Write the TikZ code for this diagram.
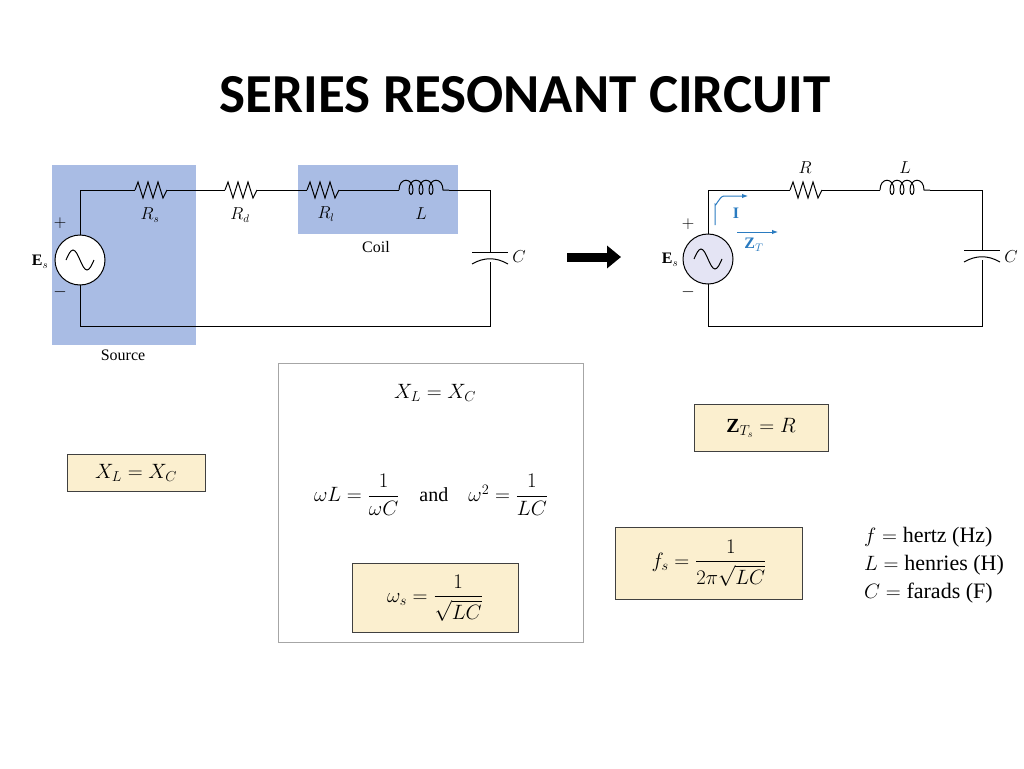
\documentclass[tikz,border=0pt]{standalone}
\usepackage{amsmath}
\usepackage{fontspec}
\setmainfont{Liberation Serif}
\newfontfamily\titlefont{Carlito}
\usetikzlibrary{arrows.meta}
\definecolor{colorbox}{HTML}{A9BCE4}
\definecolor{colorfill}{HTML}{FBEFCF}
\definecolor{colorarrow}{HTML}{2A7BC0}
\definecolor{colorsrc}{HTML}{E4E4F4}
\tikzset{resistor/.pic={
        \path [draw, pic actions] (-16,0) -- (-13,-8) -- (-8,8) -- (-3,-8) -- (2,8) -- (7,-8) -- (12,8) -- (16,0);
    },
    inductor/.pic={
        \path [draw, pic actions] (-25,0)
            \foreach \a in {-25,-15,-5} {
                .. controls (\a,-13) and (\a+14,-13) .. (\a+14,0)
                .. controls (\a+14,6) and (\a+10,6) .. (\a+10,0)
            }
            .. controls (5,-13) and (19,-13) .. (19,0) -- (25,0);
    },
    capacitor/.pic={
        \path [draw, pic actions] (-18,-5) -- (18,-5);
        \path [draw, pic actions] (-18,7) .. controls (-6,0) and (6,0) .. (18,7);
    },
    source/.pic={
        \path [draw, pic actions] (0,0) circle (25);
        \path [draw, pic actions, fill=none] (-14,0) sin (-7,-10) cos (0,0) sin (7,10) cos (14,0);
    },
    eqbox/.style={draw=black!75, fill=colorfill, inner sep=6pt, font=\fontsize{20}{24}\selectfont},
    lbl/.style={font=\fontsize{16}{19}\selectfont}
}
\begin{document}
\begin{tikzpicture}[x=1pt, y=-1pt, line width=1pt]
    \useasboundingbox (0,0) rectangle (1024,768);
    \node [font=\titlefont\bfseries\fontsize{55}{62}\selectfont] (title) at (525,95) {SERIES RESONANT CIRCUIT};

    % left circuit
    \fill [colorbox] (52,165) rectangle (196,345);
    \fill [colorbox] (298,165) rectangle (458,234);
    \coordinate (lTL) at (80,190);
    \coordinate (lTR) at (490,190);
    \coordinate (lBL) at (80,326);
    \coordinate (lBR) at (490,326);
    \draw (lTL) -- (135,190) (167,190) -- (225,190) (257,190) -- (307,190) (339,190) -- (399,190) (449,190) -- (lTR) -- (490,252);
    \draw (490,262) -- (lBR) -- (lBL) -- (80,285) (80,235) -- (lTL);
    \draw (151,190) pic {resistor};
    \draw (241,190) pic {resistor};
    \draw (323,190) pic {resistor};
    \draw (424,190) pic {inductor};
    \draw (490,257) pic {capacitor};
    \draw (80,260) pic [fill=white] {source};
    \node [lbl] (rs) at (150,215) {$R_s$};
    \node [lbl] (rd) at (240,215) {$R_d$};
    \node [lbl] (rl) at (326,214) {$R_l$};
    \node [lbl] (ll) at (421,214) {$L$};
    \node [lbl] (coil) at (376,247) {Coil};
    \node [lbl] (cl) at (519,257) {$C$};
    \node [lbl] (es) at (40,262) {$\mathbf{E}_s$};
    \node [lbl] (pl) at (60,223) {$+$};
    \node [lbl] (mi) at (60,292) {$-$};
    \node [lbl] (src) at (123,355) {Source};

    % arrow
    \coordinate (a1) at (567,257);
    \coordinate (a2) at (621,257);
    \draw [line width=9pt, -{Triangle[length=14pt, width=22pt]}] (a1) -- (a2);

    % right circuit
    \coordinate (rTL) at (708,190);
    \coordinate (rTR) at (982,190);
    \coordinate (rBL) at (708,326);
    \coordinate (rBR) at (982,326);
    \draw (rTL) -- (790,190) (822,190) -- (880,190) (930,190) -- (rTR) -- (982,250);
    \draw (982,260) -- (rBR) -- (rBL) -- (708,284) (708,234) -- (rTL);
    \draw (806,190) pic {resistor};
    \draw (905,190) pic {inductor};
    \draw (982,255) pic {capacitor};
    \draw (708,259) pic [fill=colorsrc] {source};
    \node [lbl] (r) at (805,168) {$R$};
    \node [lbl] (l) at (905,168) {$L$};
    \node [lbl] (c) at (1011,257) {$C$};
    \node [lbl] (es2) at (670,260) {$\mathbf{E}_s$};
    \node [lbl] (pl2) at (688,224) {$+$};
    \node [lbl] (mi2) at (688,292) {$-$};
    \coordinate (i1) at (715,225);
    \coordinate (i2) at (748,196);
    \draw [colorarrow, -{Latex[length=6pt]}] (i1) -- (715,204) to[out=-90, in=180] (724,196) -- (i2);
    \node [lbl, colorarrow] (i) at (736,213) {$\mathbf{I}$};
    \coordinate (z1) at (737,232);
    \coordinate (z2) at (778,232);
    \draw [colorarrow, -{Latex[length=6pt]}] (z1) -- (z2);
    \node [lbl, colorarrow] (z) at (754,245) {$\mathbf{Z}_T$};

    % formulas
    \draw [black!35, line width=0.6pt] (278,363) rectangle (583,642);
    \node [font=\fontsize{20}{24}\selectfont] (xlxc) at (435,393) {$X_L = X_C$};
    \node [font=\fontsize{20}{24}\selectfont] (omega) at (431,495) {$\omega L = \dfrac{1}{\omega C}\quad\text{and}\quad \omega^2 = \dfrac{1}{LC}$};
    \node [eqbox, minimum width=166pt, minimum height=69pt] (ws) at (435,598) {$\omega_s = \dfrac{1}{\sqrt{LC}}$};
    \node [eqbox, minimum width=138pt, minimum height=37pt] (xl) at (136,473) {$X_L = X_C$};
    \node [eqbox, minimum width=134pt, minimum height=47pt] (zt) at (761,428) {$\mathbf{Z}_{T_s} = R$};
    \node [eqbox, minimum width=187pt, minimum height=72pt] (fs) at (709,563) {$f_s = \dfrac{1}{2\pi\sqrt{LC}}$};
    \node [font=\fontsize{22}{28}\selectfont, align=left] (units) at (934,565) {$f = \text{hertz (Hz)}$\\$L = \text{henries (H)}$\\$C = \text{farads (F)}$};
\end{tikzpicture}
\end{document}
